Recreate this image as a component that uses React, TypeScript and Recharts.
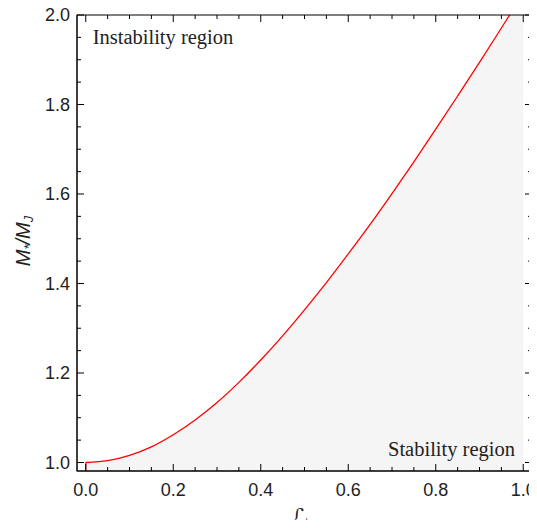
import React from "react";
import { ComposedChart, Area, XAxis, YAxis, ReferenceLine } from "recharts";

const lValues = [0, 0.05, 0.1, 0.15, 0.2, 0.25, 0.3, 0.35, 0.4, 0.45, 0.5, 0.55, 0.6, 0.65, 0.7, 0.75, 0.8, 0.85, 0.9, 0.95, 1.0];
const mValues = [1.0, 1.004, 1.016, 1.035, 1.062, 1.095, 1.134, 1.179, 1.229, 1.283, 1.341, 1.402, 1.466, 1.532, 1.601, 1.672, 1.745, 1.819, 1.894, 1.971, 2.048];

const xTicks = [0, 0.05, 0.1, 0.15, 0.2, 0.25, 0.3, 0.35, 0.4, 0.45, 0.5, 0.55, 0.6, 0.65, 0.7, 0.75, 0.8, 0.85, 0.9, 0.95, 1.0];
const yTicks = [1.0, 1.05, 1.1, 1.15, 1.2, 1.25, 1.3, 1.35, 1.4, 1.45, 1.5, 1.55, 1.6, 1.65, 1.7, 1.75, 1.8, 1.85, 1.9, 1.95, 2.0];

const xDomain = [-0.02, 1.02];
const yDomain = [0.981, 2.0];

const data = lValues.map((l, i) => ({ l, m: mValues[i] }));

const W = 537;
const H = 528;
const LEFT = 77;
const RIGHT = 532;
const TOP = 15;
const BOTTOM = 471;

const MAJOR = 7;
const MINOR = 4;
// right-frame tick lengths in x data units (about 7px and 4px)
const X_MAJOR_U = 0.016;
const X_MINOR_U = 0.0092;

const TICK_COLOR = "#000";
const LABEL_COLOR = "#222";
const SANS = "'Liberation Sans', Arial, sans-serif";
const SERIF = "'Liberation Serif', 'Times New Roman', serif";

const isMajor = (v: number) => Math.abs(v * 5 - Math.round(v * 5)) < 1e-6;

const BottomTick = (props: any) => {
  const { x, y, payload } = props;
  const v = payload.value;
  const len = isMajor(v) ? MAJOR : MINOR;
  return (
    <g>
      <line x1={x} y1={y} x2={x} y2={y - len} stroke={TICK_COLOR} strokeWidth={1} />
      <line x1={x} y1={TOP} x2={x} y2={TOP + len} stroke={TICK_COLOR} strokeWidth={1} />
      {isMajor(v) && (
        <text x={x} y={y + 25} textAnchor="middle" fontSize={18} fontFamily={SANS} fill={LABEL_COLOR}>
          {v.toFixed(1)}
        </text>
      )}
    </g>
  );
};

const LeftTick = (props: any) => {
  const { x, y, payload } = props;
  const v = payload.value;
  const len = isMajor(v) ? MAJOR : MINOR;
  return (
    <g>
      <line x1={x} y1={y} x2={x + len} y2={y} stroke={TICK_COLOR} strokeWidth={1} />
      {isMajor(v) && (
        <text x={x - 7} y={y} dy="0.36em" textAnchor="end" fontSize={18} fontFamily={SANS} fill={LABEL_COLOR}>
          {v.toFixed(1)}
        </text>
      )}
    </g>
  );
};

export default function App() {
  return (
    <div style={{ position: "relative", margin: -8, width: W, height: H }}>
      <ComposedChart
        width={W}
        height={H}
        data={data}
        margin={{ top: TOP, right: W - RIGHT, bottom: 0, left: 0 }}
      >
        <Area
          type="monotone"
          dataKey="m"
          stroke="#ff0000"
          strokeWidth={1.3}
          fill="#f5f5f5"
          fillOpacity={1}
          isAnimationActive={false}
          dot={false}
          activeDot={false}
        />
        <ReferenceLine
          segment={[{ x: 0, y: yDomain[0] }, { x: 0, y: mValues[0] }]}
          stroke="#ff0000"
          strokeWidth={1.3}
          ifOverflow="visible"
        />
        {yTicks.map((t) => (
          <ReferenceLine
            key={"ty" + t}
            segment={[
              { x: xDomain[1], y: t },
              { x: xDomain[1] - (isMajor(t) ? X_MAJOR_U : X_MINOR_U), y: t },
            ]}
            stroke={TICK_COLOR}
            strokeWidth={1}
            ifOverflow="visible"
          />
        ))}
        <XAxis
          dataKey="l"
          type="number"
          domain={xDomain}
          ticks={xTicks}
          interval={0}
          allowDataOverflow
          height={H - BOTTOM}
          tickSize={0}
          tickMargin={0}
          tickLine={false}
          tick={<BottomTick />}
          axisLine={{ stroke: "#000" }}
        />
        <YAxis
          type="number"
          domain={yDomain}
          ticks={yTicks}
          interval={0}
          allowDataOverflow
          width={LEFT}
          tickSize={0}
          tickMargin={0}
          tickLine={false}
          tick={<LeftTick />}
          axisLine={{ stroke: "#000" }}
        />
      </ComposedChart>
      <svg
        width={W}
        height={H}
        style={{ position: "absolute", left: 0, top: 0, pointerEvents: "none" }}
      >
        <rect
          x={LEFT}
          y={TOP}
          width={RIGHT - LEFT}
          height={BOTTOM - TOP}
          fill="none"
          stroke="#000"
          strokeWidth={1}
        />
        <text x={92.7} y={43.5} fontSize={20.5} fontFamily={SERIF} fill="#222">
          Instability region
        </text>
        <text x={515} y={456} textAnchor="end" fontSize={20.5} fontFamily={SERIF} fill="#222">
          Stability region
        </text>
        <text x={300} y={524} textAnchor="middle" fontSize={22} fontFamily="'DejaVu Serif', 'DejaVu Sans', serif" fill="#222">
          ℒ
        </text>
        <text
          x={23}
          y={241}
          transform="rotate(-90, 23, 241)"
          textAnchor="middle"
          dominantBaseline="central"
          fontSize={20}
          fontStyle="italic"
          fontFamily={SANS}
          fill="#222"
        >
          M<tspan fontSize={13} dy={5}>*</tspan>
          <tspan dy={-5}>/M</tspan>
          <tspan fontSize={13} dy={5}>J</tspan>
        </text>
      </svg>
    </div>
  );
}
